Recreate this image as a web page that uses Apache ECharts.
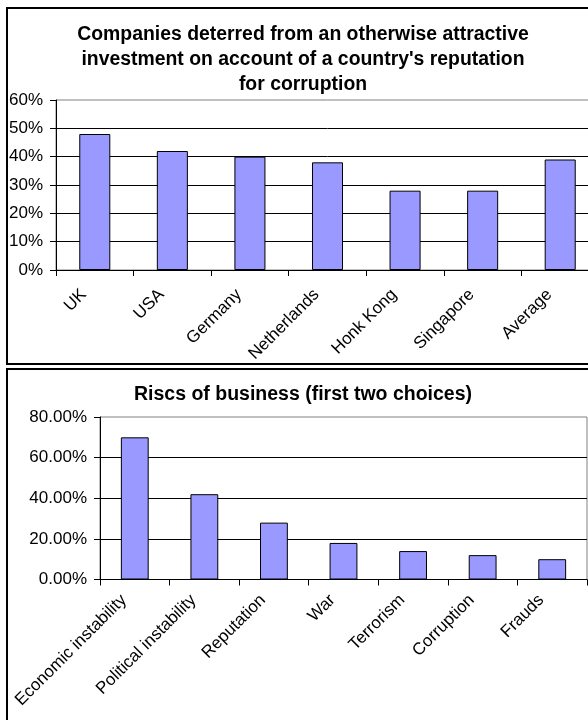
<!DOCTYPE html>
<html>
<head>
<meta charset="utf-8">
<script src="https://cdn.jsdelivr.net/npm/echarts@6/dist/echarts.min.js"></script>
<style>
  html, body { margin: 0; padding: 0; background: #fff; overflow: hidden; }
  #chart { width: 640px; height: 720px; }
</style>
</head>
<body>
<div id="chart"></div>
<script>
// Survey results, in percent
const countries = ['UK', 'USA', 'Germany', 'Netherlands', 'Honk Kong', 'Singapore', 'Average'];
const deterredShare = [48, 42, 40, 38, 28, 28, 39];

const risks = ['Economic instability', 'Political instability', 'Reputation', 'War', 'Terrorism', 'Corruption', 'Frauds'];
const riskShare = [70, 42, 28, 18, 14, 12, 10];

const titleTop = ['Companies deterred from an otherwise attractive',
                  "investment on account of a country's reputation",
                  'for corruption'];
const titleBottom = 'Riscs of business (first two choices)';

const FONT = 'Arial, "Liberation Sans", sans-serif';
const BAR = '#9999FF';

const chart = echarts.init(document.getElementById('chart'), null, { renderer: 'canvas' });

function valueAxis(gridIndex, max, interval, fmt) {
  return {
    type: 'value', gridIndex, min: 0, max, interval,
    axisLine: { show: true, lineStyle: { color: '#000', width: 1 } },
    axisTick: { show: true, length: 6, lineStyle: { color: '#000' } },
    axisLabel: { color: '#000', fontFamily: FONT, fontSize: 17, margin: 13, formatter: fmt },
    splitLine: { show: true, showMaxLine: false, lineStyle: { color: '#000', width: 1 } }
  };
}

// rotated labels hang a little left of the category centre, like spreadsheet charts do
function categoryAxis(gridIndex, data, margin) {
  return {
    type: 'category', gridIndex, data, boundaryGap: true,
    axisLine: { show: true, lineStyle: { color: '#000', width: 1 } },
    axisTick: { show: true, length: 6, alignWithLabel: false, lineStyle: { color: '#000' } },
    axisLabel: { color: '#000', fontFamily: FONT, fontSize: 17, rotate: 45, margin, interval: 0,
                 padding: [0, 15.5, 0, 0] }
  };
}

const titleLines = titleTop.map((t, i) => ({
  type: 'text', x: 303, y: 35 + i * 25, z: 10,
  style: { text: t, fill: '#000', font: 'bold 19.4px ' + FONT, textAlign: 'center', textVerticalAlign: 'middle' }
}));

chart.setOption({
  animation: false,
  backgroundColor: '#fff',
  grid: [
    { left: 56, top: 100, width: 543, height: 170, show: true, borderColor: '#808080', borderWidth: 1, backgroundColor: 'transparent' },
    { left: 100, top: 417, width: 487, height: 162.5, show: true, borderColor: '#808080', borderWidth: 1, backgroundColor: 'transparent' }
  ],
  xAxis: [categoryAxis(0, countries, 11), categoryAxis(1, risks, 7)],
  yAxis: [
    valueAxis(0, 60, 10, v => v + '%'),
    valueAxis(1, 80, 20, v => v.toFixed(2) + '%')
  ],
  series: [
    { type: 'bar', xAxisIndex: 0, yAxisIndex: 0, data: deterredShare, barWidth: '40%',
      itemStyle: { color: BAR, borderColor: '#000', borderWidth: 1 } },
    { type: 'bar', xAxisIndex: 1, yAxisIndex: 1, data: riskShare, barWidth: '40%',
      itemStyle: { color: BAR, borderColor: '#000', borderWidth: 1 } }
  ],
  graphic: [
    { type: 'rect', shape: { x: 7, y: 8, width: 610, height: 356 }, z: -10,
      style: { fill: 'transparent', stroke: '#000', lineWidth: 2 } },
    { type: 'rect', shape: { x: 7, y: 369, width: 610, height: 380 }, z: -10,
      style: { fill: 'transparent', stroke: '#000', lineWidth: 2 } },
    ...titleLines,
    { type: 'text', x: 303, y: 395, z: 10,
      style: { text: titleBottom, fill: '#000', font: 'bold 19.5px ' + FONT, textAlign: 'center', textVerticalAlign: 'middle' } }
  ]
});
</script>
</body>
</html>
